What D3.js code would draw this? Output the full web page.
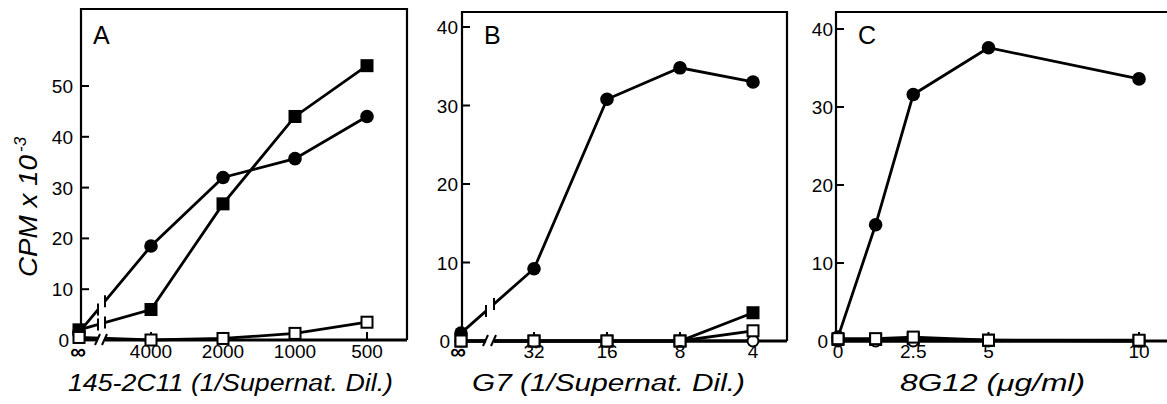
<!DOCTYPE html>
<html><head><meta charset="utf-8">
<script src="https://cdn.jsdelivr.net/npm/d3@7"></script>
<style>body{margin:0;background:#fff}svg{display:block}</style>
</head><body>
<svg id="c" width="1167" height="404"></svg>
<script>
// ---------- DATA ----------
const catsA = ["∞","4000","2000","1000","500"];
const aFilledSquare = [2, 6, 26.8, 44, 54];
const aFilledCircle = [1.5, 18.5, 32, 35.7, 44];
const aOpenSquare   = [0.5, 0, 0.3, 1.3, 3.5];
const yTicksA = [0,10,20,30,40,50];

const catsB = ["∞","32","16","8","4"];
const bFilledCircle = [1, 9.2, 30.8, 34.8, 33];
const bFilledSquare = [0, 0, 0, 0, 3.6];
const bOpenSquare   = [0, 0, 0, 0, 1.3];
const bOpenCircle   = [0, 0, 0, 0, 0];
const yTicksB = [0,10,20,30,40];

const xC = [0, 1.25, 2.5, 5, 10];
const cFilledCircle = [0.5, 14.9, 31.6, 37.6, 33.6];
const cFilledSquare = [0.2, 0.2, 0.3, 0.1, 0];
const cOpenSquare   = [0.3, 0.3, 0.5, 0.1, 0.1];
const cOpenCircle   = [0, 0, 0, 0, 0];
const xTicksC = [0, 2.5, 5, 10];
const yTicksC = [0,10,20,30,40];

const titleA = "145-2C11 (1/Supernat. Dil.)";
const titleB = "G7 (1/Supernat. Dil.)";
const titleC = "8G12 (μg/ml)";
const yTitle = "CPM x 10";
const yTitleExp = "-3";

// ---------- DRAW ----------
const svg = d3.select("#c");
const FONT = "Liberation Sans, Arial, sans-serif";
const SW = 2.8;

function frame(g, l, t, r, b, breakX) {
  const p = d3.path();
  p.moveTo(l, b); p.lineTo(l, t); p.lineTo(r, t); if (r < 1167) p.lineTo(r, b);
  g.append("path").attr("d", p.toString()).attr("fill","none").attr("stroke","#000").attr("stroke-width",2.2);
  if (breakX) {
    g.append("line").attr("x1", l).attr("x2", breakX[0]).attr("y1", b).attr("y2", b).attr("stroke","#000").attr("stroke-width",SW);
    g.append("line").attr("x1", breakX[1]).attr("x2", r).attr("y1", b).attr("y2", b).attr("stroke","#000").attr("stroke-width",SW);
  } else {
    g.append("line").attr("x1", l).attr("x2", r).attr("y1", b).attr("y2", b).attr("stroke","#000").attr("stroke-width",SW);
  }
}

function yAxis(g, y, ticks, l, gapX, zeroX) {
  g.selectAll(null).data(ticks.filter(d => d !== 0)).enter().append("line")
    .attr("x1", l).attr("x2", l + 8).attr("y1", d => y(d)).attr("y2", d => y(d))
    .attr("stroke","#000").attr("stroke-width",2);
  g.selectAll(null).data(ticks).enter().append("text")
    .attr("x", d => d === 0 ? zeroX : l - gapX).attr("y", d => y(d) + 7).attr("text-anchor","end")
    .attr("font-family", FONT).attr("font-size", 19).text(d => d);
}

function xLabels(g, pos, labels, yBase) {
  g.selectAll(null).data(labels).enter().append("text")
    .attr("x", (d,i) => pos(d,i)).attr("y", d => d === "∞" ? yBase + 1 : yBase).attr("text-anchor","middle")
    .attr("font-family", FONT).attr("font-size", d => d === "∞" ? 22 : 19)
    .attr("font-weight", d => d === "∞" ? "bold" : "normal")
    .text(d => d);
}

function series(g, xs, vals, y) {
  const pts = vals.map((v,i) => [xs[i], y(v)]);
  g.append("path").attr("d", d3.line()(pts)).attr("fill","none").attr("stroke","#000").attr("stroke-width",SW);
  return pts;
}
function markers(g, pts, type) {
  if (type === "fc") g.selectAll(null).data(pts).enter().append("circle").attr("cx",d=>d[0]).attr("cy",d=>d[1]).attr("r",6.8).attr("fill","#000");
  if (type === "oc") g.selectAll(null).data(pts).enter().append("circle").attr("cx",d=>d[0]).attr("cy",d=>d[1]).attr("r",5.5).attr("fill","#fff").attr("stroke","#000").attr("stroke-width",2);
  if (type === "fs") g.selectAll(null).data(pts).enter().append("rect").attr("x",d=>d[0]-6.5).attr("y",d=>d[1]-6.5).attr("width",13).attr("height",13).attr("fill","#000");
  if (type === "os") g.selectAll(null).data(pts).enter().append("rect").attr("x",d=>d[0]-5.5).attr("y",d=>d[1]-5.5).attr("width",11).attr("height",11).attr("fill","#fff").attr("stroke","#000").attr("stroke-width",2);
}

function breakMarks(g, gap, b, lines) {
  g.append("polygon").attr("points", `${gap[0]},${b+6} ${gap[1]},${b+6} ${gap[1]},${b-90} ${gap[0]},${b-90}`).attr("fill","#fff");
  [gap[0]-1, gap[1]-1].forEach(x => g.append("line").attr("x1", x-2).attr("y1", b+5).attr("x2", x+3).attr("y2", b-6).attr("stroke","#000").attr("stroke-width",2));
  lines.forEach(pts => {
    const [p0, p1] = pts;
    const yAt = x => p0[1] + (p1[1]-p0[1]) * (x - p0[0]) / (p1[0]-p0[0]);
    [gap[0], gap[1]].forEach(x => {
      const yy = yAt(x);
      if (Math.abs(yy - b) > 4) g.append("line").attr("x1", x).attr("x2", x).attr("y1", yy-6).attr("y2", yy+6).attr("stroke","#000").attr("stroke-width",2);
    });
  });
}

// ----- Panel A -----
{
  const g = svg.append("g");
  const L = 81, T = 9, R = 407, B = 340, gap = [98, 105];
  const x = d3.scalePoint().domain(catsA).range([79, 367]);
  const y = d3.scaleLinear().domain([0, 50]).range([340, 86]);
  const xs = catsA.map(c => x(c));
  frame(g, L, T, R, B, gap);
  yAxis(g, y, yTicksA, L, 8, 69);
  g.selectAll(null).data(catsA.slice(1)).enter().append("line").attr("x1", d=>x(d)).attr("x2", d=>x(d)).attr("y1", B).attr("y2", B-8).attr("stroke","#000").attr("stroke-width",2);
  const fsP = series(g, xs, aFilledSquare, y);
  const fcP = series(g, xs, aFilledCircle, y);
  const osP = series(g, xs, aOpenSquare, y);
  breakMarks(g, gap, B, [fsP, fcP, osP]);
  markers(g, fcP, "fc"); markers(g, fsP, "fs"); markers(g, osP, "os");
  xLabels(g, (d,i) => i === 0 ? 78 : x(d), catsA, 358);
  g.append("text").attr("x", 93).attr("y", 44).attr("font-family", FONT).attr("font-size", 25).text("A");
  g.append("text").attr("x", 68).attr("y", 391).attr("font-family", FONT).attr("font-style","italic").attr("font-size", 23)
    .attr("textLength", 325).attr("lengthAdjust","spacingAndGlyphs").text(titleA);
}

// ----- Panel B -----
{
  const g = svg.append("g");
  const L = 462, T = 12, R = 787, B = 341, gap = [486, 494];
  const x = d3.scalePoint().domain(catsB).range([461, 753]);
  const y = d3.scaleLinear().domain([0, 40]).range([341, 27]);
  const xs = catsB.map(c => x(c));
  frame(g, L, T, R, B, gap);
  yAxis(g, y, yTicksB, L, 4, 450);
  g.selectAll(null).data(catsB.slice(1)).enter().append("line").attr("x1", d=>x(d)).attr("x2", d=>x(d)).attr("y1", B).attr("y2", B-9).attr("stroke","#000").attr("stroke-width",2);
  const ocP = series(g, xs, bOpenCircle, y);
  const osP = series(g, xs, bOpenSquare, y);
  const fsP = series(g, xs, bFilledSquare, y);
  const fcP = series(g, xs, bFilledCircle, y);
  breakMarks(g, gap, B, [fcP]);
  markers(g, fcP, "fc"); markers(g, fsP, "fs"); markers(g, ocP, "oc"); markers(g, osP, "os");
  xLabels(g, (d,i) => i === 0 ? 458 : x(d), catsB, 358);
  g.append("text").attr("x", 484).attr("y", 44).attr("font-family", FONT).attr("font-size", 25).text("B");
  g.append("text").attr("x", 472).attr("y", 391).attr("font-family", FONT).attr("font-style","italic").attr("font-size", 23)
    .attr("textLength", 273).attr("lengthAdjust","spacingAndGlyphs").text(titleB);
}

// ----- Panel C -----
{
  const g = svg.append("g");
  const L = 836, T = 12, R = 1170, B = 341;
  const x = d3.scaleLinear().domain([0, 10]).range([838, 1139]);
  const y = d3.scaleLinear().domain([0, 40]).range([341, 29]);
  const xs = xC.map(v => x(v));
  frame(g, L, T, R, B, null);
  yAxis(g, y, yTicksC, L, 3, 828);
  g.selectAll(null).data(xTicksC.slice(1)).enter().append("line").attr("x1", d=>x(d)).attr("x2", d=>x(d)).attr("y1", B).attr("y2", B-9).attr("stroke","#000").attr("stroke-width",2);
  const ocP = series(g, xs, cOpenCircle, y);
  const fsP = series(g, xs, cFilledSquare, y);
  const osP = series(g, xs, cOpenSquare, y);
  const fcP = series(g, xs, cFilledCircle, y);
  markers(g, fcP, "fc"); markers(g, fsP, "fs"); markers(g, ocP, "oc"); markers(g, osP, "os");
  xLabels(g, (d) => x(d), xTicksC, 358);
  g.append("text").attr("x", 858).attr("y", 44).attr("font-family", FONT).attr("font-size", 25).text("C");
  g.append("text").attr("x", 900).attr("y", 391).attr("font-family", FONT).attr("font-style","italic").attr("font-size", 23)
    .attr("textLength", 185).attr("lengthAdjust","spacingAndGlyphs").text(titleC);
}

// ----- Y title -----
{
  const g = svg.append("g").attr("transform", "translate(37,277) rotate(-90)");
  g.append("text").attr("x", 0).attr("y", 0)
    .attr("font-family", FONT).attr("font-style","italic").attr("font-size", 25)
    .attr("textLength", 122).attr("lengthAdjust","spacingAndGlyphs").text(yTitle);
  g.append("text").attr("x", 125).attr("y", -11)
    .attr("font-family", FONT).attr("font-style","italic").attr("font-size", 17)
    .text(yTitleExp);
}
</script>
</body></html>
